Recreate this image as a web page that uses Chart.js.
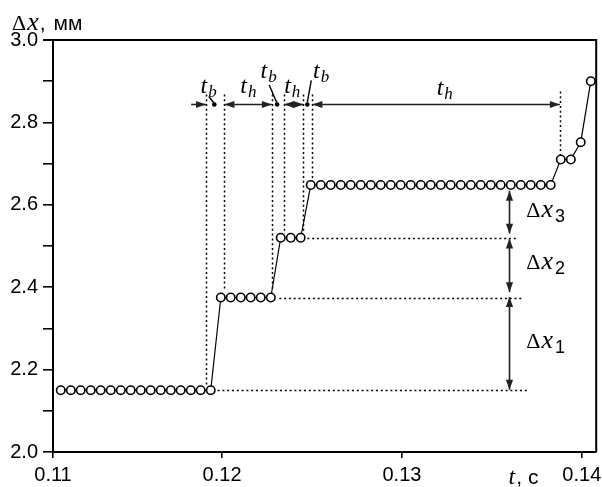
<!DOCTYPE html>
<html>
<head>
<meta charset="utf-8">
<script src="https://cdn.jsdelivr.net/npm/chart.js@4.4.0/dist/chart.umd.min.js"></script>
<style>
  body { margin: 0; background: #fff; }
  canvas { display: block; }
</style>
</head>
<body>
<canvas id="chart" width="602" height="487"></canvas>
<script>
// измеренные точки: время, с и перемещение, мм
var timeData = [
  0.11103, 0.11159, 0.11214, 0.11270, 0.11325, 0.11381, 0.11437, 0.11492,
  0.11548, 0.11603, 0.11659, 0.11715, 0.11770, 0.11826, 0.11881, 0.11937,
  0.11993, 0.12048, 0.12104, 0.12159, 0.12215, 0.12271,
  0.12326, 0.12382, 0.12437,
  0.12493, 0.12549, 0.12604, 0.12660, 0.12715, 0.12771, 0.12827, 0.12882,
  0.12938, 0.12993, 0.13049, 0.13105, 0.13160, 0.13216, 0.13271, 0.13327,
  0.13383, 0.13438, 0.13494, 0.13549, 0.13605, 0.13661, 0.13716, 0.13772,
  0.13827,
  0.13883, 0.13939, 0.13994, 0.14050
];
var dispData = [
  2.15, 2.15, 2.15, 2.15, 2.15, 2.15, 2.15, 2.15,
  2.15, 2.15, 2.15, 2.15, 2.15, 2.15, 2.15, 2.15,
  2.375, 2.375, 2.375, 2.375, 2.375, 2.375,
  2.52, 2.52, 2.52,
  2.648, 2.648, 2.648, 2.648, 2.648, 2.648, 2.648, 2.648,
  2.648, 2.648, 2.648, 2.648, 2.648, 2.648, 2.648, 2.648,
  2.648, 2.648, 2.648, 2.648, 2.648, 2.648, 2.648, 2.648,
  2.648,
  2.71, 2.71, 2.752, 2.90
];

var xTickValues = [0.1106, 0.12, 0.13, 0.14];
var xTickLabels = ['0.11', '0.12', '0.13', '0.14'];

// разметка (в единицах осей)
// вертикальные пунктиры: [t, y верх, y низ]
var guideLines = [
  [0.11911, 2.868, 2.16],
  [0.12013, 2.868, 2.39],
  [0.12277, 2.868, 2.39],
  [0.12345, 2.868, 2.53],
  [0.12452, 2.868, 2.53],
  [0.12502, 2.868, 2.665],
  [0.13878, 2.875, 2.72]
];
// горизонтальные пунктиры: [уровень, t начало, t конец]
var levelLines = [
  [2.15, 0.11975, 0.13702],
  [2.375, 0.12318, 0.13675],
  [2.52, 0.12474, 0.13647]
];
var arrowRow = 2.845;
// стрелки интервалов: [t1, t2, стрелка в начале, стрелка в конце]
var timeArrows = [
  [0.11828, 0.11911, false, true],
  [0.12013, 0.12277, true, true],
  [0.12345, 0.12452, true, true],
  [0.12502, 0.13878, true, true]
];
var tbDots = [0.11957, 0.12306, 0.12474];
var tbLeaders = [
  [0.11926, 2.863, 0.11955, 2.847],
  [0.12262, 2.891, 0.12304, 2.848],
  [0.12496, 2.902, 0.12474, 2.849]
];
// подписи t: [t, y базовой линии, индекс]
var timeLabels = [
  [0.11880, 2.872, 'b'],
  [0.12101, 2.872, 'h'],
  [0.12214, 2.907, 'b'],
  [0.12345, 2.872, 'h'],
  [0.12506, 2.907, 'b'],
  [0.13193, 2.866, 'h']
];
var dxArrowT = 0.13597;
var dxArrows = [
  [2.634, 2.530],
  [2.518, 2.388],
  [2.376, 2.151]
];
var dxLabelT = 0.13691;
var dxLabels = [
  [2.571, '3'],
  [2.445, '2'],
  [2.252, '1']
];

var serifIt = 'italic 24px "Liberation Serif"';
var serifBigIt = 'italic 26px "Liberation Serif"';
var serifSubIt = 'italic 17px "Liberation Serif"';
var serif = '22px "Liberation Serif"';
var sans = '21px "Liberation Sans"';
var sansSub = '18px "Liberation Sans"';

function drawParts(ctx, x, y, parts) {
  parts.forEach(function (p) {
    ctx.font = p.font;
    ctx.fillText(p.text, x + (p.dx || 0), y + (p.dy || 0));
    x += ctx.measureText(p.text).width + (p.dx || 0);
  });
}

function arrowHead(ctx, x1, y1, x2, y2) {
  var a = Math.atan2(y2 - y1, x2 - x1), L = 10, W = 3.6;
  ctx.beginPath();
  ctx.moveTo(x2, y2);
  ctx.lineTo(x2 - L * Math.cos(a) + W * Math.sin(a), y2 - L * Math.sin(a) - W * Math.cos(a));
  ctx.lineTo(x2 - L * Math.cos(a) - W * Math.sin(a), y2 - L * Math.sin(a) + W * Math.cos(a));
  ctx.closePath();
  ctx.fill();
}

function arrow(ctx, x1, y1, x2, y2, headStart, headEnd) {
  ctx.beginPath();
  ctx.moveTo(x1, y1);
  ctx.lineTo(x2, y2);
  ctx.stroke();
  if (headEnd) arrowHead(ctx, x1, y1, x2, y2);
  if (headStart) arrowHead(ctx, x2, y2, x1, y1);
}

var annotations = {
  id: 'annotations',
  beforeDatasetsDraw: function (chart) {
    var ctx = chart.ctx, xs = chart.scales.x, ys = chart.scales.y;
    ctx.save();
    ctx.strokeStyle = '#000';
    ctx.lineWidth = 1.5;
    ctx.setLineDash([2, 2.8]);
    guideLines.forEach(function (g) {
      var px = Math.round(xs.getPixelForValue(g[0])) + 0.5;
      ctx.beginPath();
      ctx.moveTo(px, ys.getPixelForValue(g[1]));
      ctx.lineTo(px, ys.getPixelForValue(g[2]));
      ctx.stroke();
    });
    levelLines.forEach(function (l) {
      var py = Math.round(ys.getPixelForValue(l[0])) + 0.5;
      ctx.beginPath();
      ctx.moveTo(xs.getPixelForValue(l[1]), py);
      ctx.lineTo(xs.getPixelForValue(l[2]), py);
      ctx.stroke();
    });
    ctx.restore();
  },
  afterDatasetsDraw: function (chart) {
    var ctx = chart.ctx, xs = chart.scales.x, ys = chart.scales.y;
    ctx.save();
    ctx.strokeStyle = '#222';
    ctx.fillStyle = '#222';
    ctx.lineWidth = 1.6;
    var ay = Math.round(ys.getPixelForValue(arrowRow)) + 0.5;
    timeArrows.forEach(function (a) {
      arrow(ctx, xs.getPixelForValue(a[0]), ay, xs.getPixelForValue(a[1]), ay, a[2], a[3]);
    });
    var ax = Math.round(xs.getPixelForValue(dxArrowT)) + 0.5;
    dxArrows.forEach(function (a) {
      arrow(ctx, ax, ys.getPixelForValue(a[0]), ax, ys.getPixelForValue(a[1]), true, true);
    });
    ctx.fillStyle = '#000';
    ctx.strokeStyle = '#000';
    ctx.lineWidth = 1.4;
    tbDots.forEach(function (t) {
      ctx.beginPath();
      ctx.arc(xs.getPixelForValue(t), ay, 2.3, 0, Math.PI * 2);
      ctx.fill();
    });
    tbLeaders.forEach(function (l) {
      ctx.beginPath();
      ctx.moveTo(xs.getPixelForValue(l[0]), ys.getPixelForValue(l[1]));
      ctx.lineTo(xs.getPixelForValue(l[2]), ys.getPixelForValue(l[3]));
      ctx.stroke();
    });
    ctx.textBaseline = 'alphabetic';
    ctx.textAlign = 'left';
    timeLabels.forEach(function (l) {
      drawParts(ctx, xs.getPixelForValue(l[0]), ys.getPixelForValue(l[1]), [
        { text: 't', font: serifIt },
        { text: l[2], font: serifSubIt, dx: 1, dy: 4 }
      ]);
    });
    dxLabels.forEach(function (l) {
      drawParts(ctx, xs.getPixelForValue(dxLabelT), ys.getPixelForValue(l[0]), [
        { text: '\u0394', font: serif },
        { text: 'x', font: serifBigIt, dx: 1 },
        { text: l[1], font: sansSub, dx: 2, dy: 5 }
      ]);
    });
    ctx.restore();
  },
  afterDraw: function (chart) {
    var ctx = chart.ctx, a = chart.chartArea, xs = chart.scales.x;
    ctx.save();
    ctx.strokeStyle = '#000';
    ctx.lineWidth = 2;
    ctx.beginPath();
    ctx.moveTo(a.left - 10, a.top);
    ctx.lineTo(a.right, a.top);
    ctx.lineTo(a.right, a.bottom);
    ctx.stroke();
    ctx.fillStyle = '#000';
    ctx.textBaseline = 'alphabetic';
    ctx.textAlign = 'left';
    drawParts(ctx, a.left - 41, a.top - 10, [
      { text: '\u0394', font: serif },
      { text: 'x', font: serifBigIt, dx: 1 },
      { text: ',', font: sans, dx: 1 },
      { text: '\u043c\u043c', font: sans, dx: 8 }
    ]);
    drawParts(ctx, xs.getPixelForValue(0.13593), 484, [
      { text: 't', font: serifIt },
      { text: ',', font: sans, dx: 1 },
      { text: '\u0441', font: sans, dx: 6 }
    ]);
    ctx.restore();
  }
};

var tickFont = { family: 'Liberation Sans', size: 20 };

new Chart(document.getElementById('chart'), {
  type: 'scatter',
  data: {
    datasets: [{
      data: timeData.map(function (t, i) { return { x: t, y: dispData[i] }; }),
      showLine: true,
      borderColor: '#000',
      borderWidth: 1.2,
      pointRadius: 4.2,
      pointBorderWidth: 1.6,
      pointBorderColor: '#000',
      pointBackgroundColor: '#fff',
      clip: false
    }]
  },
  options: {
    responsive: false,
    animation: false,
    layout: { padding: { top: 40, right: 4, left: 0, bottom: 0 } },
    scales: {
      x: {
        type: 'linear',
        min: 0.1106,
        max: 0.1408,
        afterBuildTicks: function (scale) {
          scale.ticks = xTickValues.map(function (v) { return { value: v }; });
        },
        afterFit: function (scale) {
          scale.height = 35;
          scale.paddingLeft = 0;
          scale.paddingRight = 0;
        },
        ticks: {
          callback: function (v, i) { return xTickLabels[i]; },
          font: tickFont,
          color: '#000',
          padding: 5,
          maxRotation: 0,
          autoSkip: false
        },
        grid: { drawOnChartArea: false, tickLength: 6, color: '#000', lineWidth: 1.6 },
        border: { color: '#000', width: 2 }
      },
      y: {
        min: 2,
        max: 3,
        afterFit: function (scale) {
          scale.width = 53;
          scale.paddingTop = 0;
          scale.paddingBottom = 0;
        },
        ticks: {
          stepSize: 0.1,
          callback: function (v) { return Math.round(v * 10) % 2 === 0 ? v.toFixed(1) : ''; },
          font: tickFont,
          color: '#000',
          padding: 5
        },
        grid: { drawOnChartArea: false, tickLength: 10, color: '#000', lineWidth: 1.6 },
        border: { color: '#000', width: 2 }
      }
    },
    plugins: {
      legend: { display: false },
      tooltip: { enabled: false }
    }
  },
  plugins: [annotations]
});
</script>
</body>
</html>
